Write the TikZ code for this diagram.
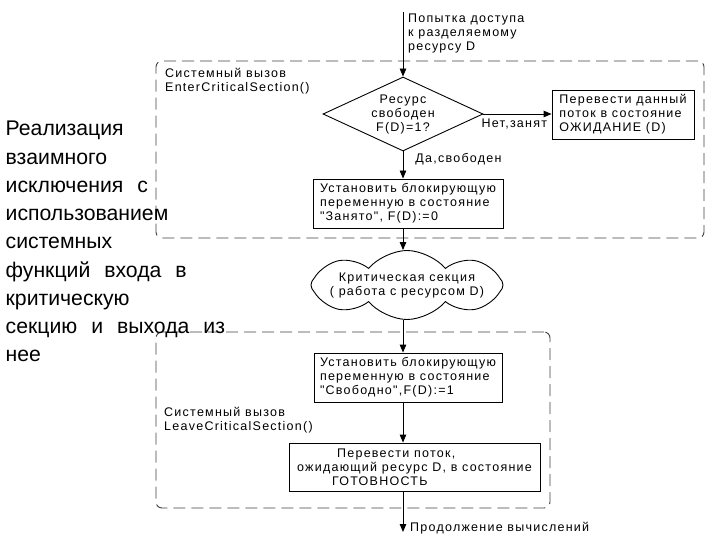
\documentclass[tikz,border=0pt]{standalone}
\usepackage{fontspec}
\setmainfont{Liberation Sans}
\newfontfamily\flowfont[LetterSpace=10]{Liberation Sans}
\newcommand\widespaces{\spaceskip=14pt\relax}
\usetikzlibrary{shapes.geometric,shapes.symbols,arrows.meta}

\begin{document}
\begin{tikzpicture}[x=1pt,y=-1pt,
  every node/.style={font=\flowfont\fontsize{12.5}{14}\selectfont},
  flow/.style={draw,line width=0.9pt,-{Triangle[length=8pt,width=6.5pt]}},
  block/.style={draw,line width=0.9pt,inner sep=0pt,align=left},
  decision/.style={diamond,draw,line width=0.9pt,inner sep=0pt,align=center,aspect=2.16,minimum width=160pt,minimum height=74pt},
  frame/.style={draw=black!75,line width=0.9pt,dash pattern=on 12pt off 6pt,rounded corners=6pt}]
\useasboundingbox (0,0) rectangle (720,540);
% dashed frames of the two system calls
\node[frame,minimum width=548pt,minimum height=177pt] (enter) at (430,149.5) {};
\node[frame,minimum width=394pt,minimum height=176pt] (leave) at (353,420) {};
\node[anchor=north west,align=left,inner sep=0pt] (enterlbl) at (165,68) {Системный вызов\\EnterCriticalSection()};
\node[anchor=north west,align=left,inner sep=0pt] (leavelbl) at (164,407) {Системный вызов\\LeaveCriticalSection()};
% title on the left
\node[anchor=north west,align=left,inner sep=0pt,font=\fontsize{21.2}{28.25}\selectfont\widespaces] (title) at (5.5,121.2) {Реализация\\взаимного\\исключения с\\использованием\\системных\\функций входа в\\критическую\\секцию и выхода из\\нее};
% flow
\coordinate (start) at (403,12);
\node[anchor=north west,align=left,inner sep=0pt] (try) at (408,14) {Попытка доступа\\к разделяемому\\ресурсу D};
\node[decision] (free) at (403,114) {Ресурс\\свободен\\F(D)=1?};
\node[block,minimum width=142pt,minimum height=49pt] (wait) at (623,114.5) {Перевести данный\\поток в состояние\\ОЖИДАНИЕ (D)};
\node[block,minimum width=190pt,minimum height=49pt] (busy) at (408,203.5) {Установить блокирующую\\переменную в состояние\\"Занято", F(D):=0};
\node[cloud,draw,line width=0.9pt,cloud puffs=8,cloud puff arc=100,cloud ignores aspect,inner xsep=-30pt,inner ysep=-14pt,minimum width=192pt,minimum height=69pt,align=center] (crit) at (407,285) {Критическая секция\\( работа с ресурсом D)};
\node[block,minimum width=188pt,minimum height=49pt] (release) at (408,377.5) {Установить блокирующую\\переменную в состояние\\"Свободно",F(D):=1};
\node[block,minimum width=251pt,minimum height=48pt] (ready) at (414.5,467) {\hspace*{40pt}Перевести поток,\\ожидающий ресурс D, в состояние\\\hspace*{35pt}ГОТОВНОСТЬ};
\coordinate (cont) at (403,532);
\draw[flow] (start) -- (free.north);
\draw[flow] (free.east) -- (wait.west |- free.east) node[at end,anchor=north east,inner sep=0pt,xshift=-4pt,yshift=-4pt] {Нет,занят};
\draw[flow] (free.south) -- (busy.north -| free.south) node[pos=0.3,right,inner sep=0pt,xshift=12pt] {Да,свободен};
\draw[flow] (busy.south -| free) -- (crit.north -| free);
\draw[flow] (crit.south -| free) -- (release.north -| free);
\draw[flow] (release.south -| free) -- (ready.north -| free);
\draw[flow] (ready.south -| free) -- (cont);
\node[anchor=base west,inner sep=0pt] (contlbl) at (410,531) {Продолжение вычислений};
\end{tikzpicture}
\end{document}
